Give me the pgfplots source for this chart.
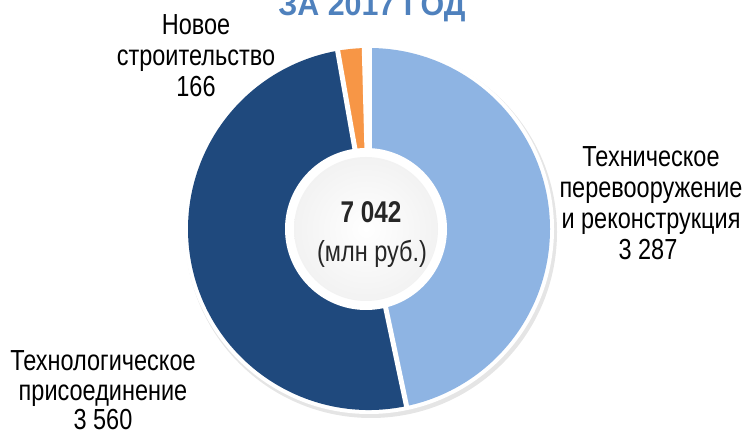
\documentclass[border=0pt]{standalone}
\usepackage{pgfplots}
\pgfplotsset{compat=1.18}
\usepackage{pgfplotstable}
\usepackage{fontspec}
\setmainfont{Liberation Sans}[FakeStretch=0.81]
\newfontfamily\titlefont{Liberation Sans}[FakeStretch=0.95]
\definecolor{pieLight}{HTML}{8EB4E3}
\definecolor{pieDark}{HTML}{1F497D}
\definecolor{pieOrange}{HTML}{F79646}
\definecolor{titleBlue}{HTML}{4F81BD}

\pgfplotstableread{
value
3287
3560
166
}\piedata

\pgfplotstablegetelem{0}{value}\of\piedata \let\vA\pgfplotsretval
\pgfplotstablegetelem{1}{value}\of\piedata \let\vB\pgfplotsretval
\pgfplotstablegetelem{2}{value}\of\piedata \let\vC\pgfplotsretval
\pgfmathsetmacro\total{7042}
\pgfmathsetmacro\aA{90}
\pgfmathsetmacro\aB{\aA-360*(\vA/\total)}
\pgfmathsetmacro\aC{\aB-360*(\vB/\total)}
\pgfmathsetmacro\aD{\aC-360*(\vC/\total)}

\newcommand\lbl{\fontsize{29}{31}\selectfont}

\begin{document}
\begin{tikzpicture}
\begin{axis}[x=1pt,y=1pt,xmin=0,xmax=743,ymin=0,ymax=433,
  hide axis,scale only axis,clip=false]
\coordinate (BL) at (axis cs:0,0);
\coordinate (TR) at (axis cs:743,433);
% shadow and white rim
\fill[black!10] (axis cs:371,201) circle[radius=186pt];
\fill[white] (axis cs:369,204) circle[radius=185pt];
% slices
\fill[pieLight] (axis cs:369,204) -- ++(\aA:181pt) arc[start angle=\aA, end angle=\aB, radius=181pt] -- cycle;
\fill[pieDark] (axis cs:369,204) -- ++(\aB:181pt) arc[start angle=\aB, end angle=\aC, radius=181pt] -- cycle;
\fill[pieOrange] (axis cs:369,204) -- ++(\aC:181pt) arc[start angle=\aC, end angle=\aD, radius=181pt] -- cycle;
% separators
\draw[white, line width=5pt] (axis cs:369,204) -- ++(\aA:184pt);
\draw[white, line width=5pt] (axis cs:369,204) -- ++(\aB:184pt);
\draw[white, line width=5pt] (axis cs:369,204) -- ++(\aC:184pt);
\draw[white, line width=5pt] (axis cs:369,204) -- ++(\aD:184pt);
% hole
\fill[white] (axis cs:366,204) circle[radius=81pt];
\shade[inner color=white, outer color=black!5] (axis cs:366,204) circle[radius=72pt];
% center text
\node[anchor=base, font=\fontsize{30}{32}\selectfont\bfseries, text=black!85] at (axis cs:371,{433-223}) {7 042};
\node[anchor=base, font=\lbl, text=black!85] at (axis cs:372,{433-262}) {(млн руб.)};
% title
\node[anchor=base, font=\titlefont\fontsize{32}{34}\selectfont\bfseries, text=titleBlue] at (axis cs:372,{433-16}) {ЗА 2017 ГОД};
% right label
\node[anchor=base, font=\lbl] at (axis cs:651,{433-167}) {Техническое};
\node[anchor=base, font=\lbl] at (axis cs:651,{433-198}) {перевооружение};
\node[anchor=base, font=\lbl] at (axis cs:651,{433-229}) {и реконструкция};
\node[anchor=base, font=\lbl] at (axis cs:648,{433-260}) {3 287};
% bottom-left label
\node[anchor=base, font=\lbl] at (axis cs:103,{433-371}) {Технологическое};
\node[anchor=base, font=\lbl] at (axis cs:103,{433-401}) {присоединение};
\node[anchor=base, font=\lbl] at (axis cs:103,{433-430}) {3 560};
% top-left label
\node[anchor=base, font=\lbl] at (axis cs:196,{433-35}) {Новое};
\node[anchor=base, font=\lbl] at (axis cs:196,{433-66}) {строительство};
\node[anchor=base, font=\lbl] at (axis cs:196,{433-97}) {166};
\end{axis}
\pgfresetboundingbox
\useasboundingbox (BL) rectangle (TR);
\end{tikzpicture}
\end{document}
